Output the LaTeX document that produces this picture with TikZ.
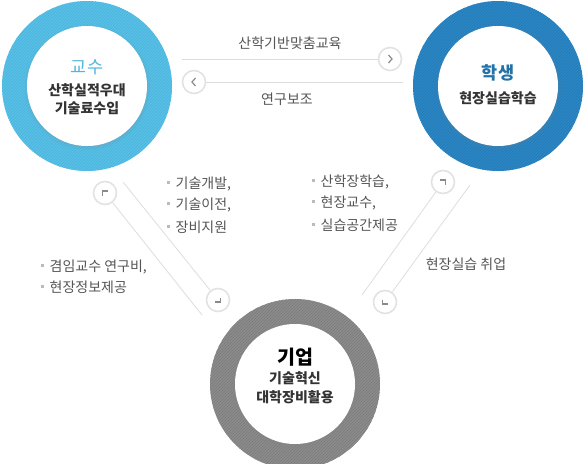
\documentclass[tikz,border=0pt]{standalone}
\usepackage{fontspec}
\setmainfont{Noto Sans CJK KR}
\usetikzlibrary{patterns,shadows}
\definecolor{profblue}{HTML}{56C1E9}
\definecolor{studblue}{HTML}{2A87C6}
\definecolor{compgray}{HTML}{8C8C8C}
\definecolor{linegray}{HTML}{DDDDDD}
\definecolor{btngray}{HTML}{E2E2E2}
\definecolor{glyphgray}{HTML}{8A8A8A}
\definecolor{textgray}{HTML}{555555}
\definecolor{textdark}{HTML}{333333}
\definecolor{dotgray}{HTML}{BBBBBB}
\newcommand{\itemdot}{\textcolor{dotgray}{\rule[0.3em]{3pt}{3pt}}\hspace{6pt}}

\begin{document}
\begin{tikzpicture}[x=1pt,y=-1pt,
	disc/.style={circle, fill=white, minimum size=120pt, inner sep=0pt,
		circular drop shadow={shadow xshift=0pt, shadow yshift=-1pt, shadow scale=1.06, opacity=0.35}},
	title/.style={font=\bfseries\fontsize{17.5}{20}\selectfont},
	sub/.style={font=\bfseries\fontsize{14}{18}\selectfont, align=center, text=textdark},
	label/.style={font=\fontsize{14}{18}\selectfont, text=textgray, inner sep=0pt},
	btn/.style={circle, draw=btngray, line width=1.6pt, fill=white, minimum size=23pt, inner sep=0pt},
	chev/.style={draw=glyphgray, line width=1.2pt},
	conn/.style={draw=linegray, line width=0.8pt}]
	\useasboundingbox (0,0) rectangle (585,463);

	\fill[profblue] (87,86) circle (85);
	\fill[pattern=north east lines, pattern color=profblue!92!black] (87,86) circle (85);
	\node[disc] (profdisc) at (87,86) {};
	\node[title, font=\fontsize{17.5}{20}\selectfont, text=profblue!95!black] (proftitle) at (87,67) {교수};
	\node[sub] (profsub) at (87,99) {산학실적우대\\기술료수입};

	\fill[studblue] (498,86) circle (85);
	\fill[pattern=north east lines, pattern color=studblue!90!black] (498,86) circle (85);
	\node[disc] (studdisc) at (498,86) {};
	\node[title, text=studblue!85!black] (studtitle) at (498,73) {학생};
	\node[sub] (studsub) at (498,98) {현장실습학습};

	\fill[compgray] (295,384) circle (85);
	\fill[pattern=north east lines, pattern color=compgray!88!black] (295,384) circle (85);
	\node[disc] (compdisc) at (295,384) {};
	\node[title, font=\bfseries\fontsize{19.5}{22}\selectfont, text=black] (comptitle) at (295,357) {기업};
	\node[sub, font=\bfseries\fontsize{14}{19}\selectfont] (compsub) at (295,387.5) {기술혁신\\대학장비활용};

	\coordinate (eduStart) at (182,59);
	\node[btn] (eduBtn) at (390,59) {};
	\draw[conn] (eduStart) -- (eduBtn);
	\draw[chev] ([shift={(-1.5,-4)}]eduBtn.center) -- ++(3.5,4) -- ++(-3.5,4);
	\node[btn] (resBtn) at (194,82) {};
	\coordinate (resEnd) at (403,82);
	\draw[conn] (resBtn) -- (resEnd);
	\draw[chev] ([shift={(1.5,-4)}]resBtn.center) -- ++(-3.5,4) -- ++(3.5,4);
	\node[label] (eduLabel) at (290,43) {산학기반맞춤교육};
	\node[label] (resLabel) at (287,99) {연구보조};

	\node[btn] (profUp) at (105,193) {};
	\coordinate (profUpEnd) at (202,315);
	\draw[conn] (profUp) -- (profUpEnd);
	\draw[chev] ([shift={(-2.5,2.5)}]profUp.center) -- ++(0,-4.5) -- ++(5.5,0);
	\coordinate (profDownStart) at (123,182);
	\node[btn] (profDown) at (218,300) {};
	\draw[conn] (profDownStart) -- (profDown);
	\draw[chev] ([shift={(-3,2)}]profDown.center) -- ++(5.5,0) -- ++(0,-4.5);

	\node[btn] (studUp) at (443,182) {};
	\coordinate (studUpEnd) at (362,295);
	\draw[conn] (studUp) -- (studUpEnd);
	\draw[chev] ([shift={(-3,-2)}]studUp.center) -- ++(5.5,0) -- ++(0,4.5);
	\coordinate (studDownStart) at (470,185);
	\node[btn] (studDown) at (385,302) {};
	\draw[conn] (studDownStart) -- (studDown);
	\draw[chev] ([shift={(-2.5,-2.5)}]studDown.center) -- ++(0,4.5) -- ++(5.5,0);

	\node[label, anchor=west] (techDev) at (166.5,184) {\itemdot 기술개발,};
	\node[label, anchor=west] (techTrans) at (166.5,205) {\itemdot 기술이전,};
	\node[label, anchor=west] (equipSup) at (166.5,227) {\itemdot 장비지원};
	\node[label, anchor=west] (adjFund) at (40.5,267) {\itemdot 겸임교수 연구비,};
	\node[label, anchor=west] (fieldInfo) at (40.5,287) {\itemdot 현장정보제공};
	\node[label, anchor=west] (coopStudy) at (311.5,182) {\itemdot 산학장학습,};
	\node[label, anchor=west] (fieldProf) at (311.5,203) {\itemdot 현장교수,};
	\node[label, anchor=west] (labSpace) at (311.5,225) {\itemdot 실습공간제공};
	\node[label] (fieldJob) at (466,264) {현장실습 취업};
\end{tikzpicture}
\end{document}
